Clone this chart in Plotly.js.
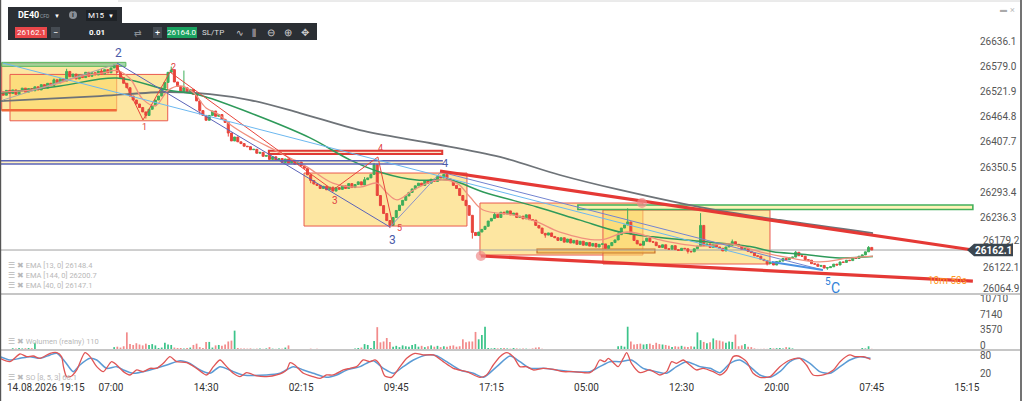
<!DOCTYPE html>
<html><head><meta charset="utf-8">
<script src="https://cdn.plot.ly/plotly-3.0.1.min.js"></script>
<style>html,body{margin:0;padding:0;background:#fff;overflow:hidden}#chart{width:1024px;height:401px}</style>
</head><body><div id="chart"></div>
<script>
// ---------------- DATA ----------------
const barStart = -5;          // index of first visible M15 bar
const firstOpen = 26524;
const closes = [
26522,26514,26525,26518,26526,26516,26524,26530,26521,26529,
26524,26533,26526,26538,26530,26541,26536,26549,26542,26551,
26546,26568,26556,26562,26551,26560,26554,26566,26557,26565,
26560,26569,26562,26572,26565,26576,26582,26566,26554,26541,
26531,26512,26503,26494,26486,26476,26468,26482,26490,26503,
26512,26530,26543,26566,26571,26544,26534,26522,26531,26520,
26527,26516,26501,26479,26468,26457,26468,26478,26466,26470,
26459,26452,26428,26410,26419,26408,26404,26398,26397,26390,
26391,26382,26384,26375,26377,26368,26374,26366,26370,26361,
26369,26360,26366,26357,26362,26353,26348,26333,26320,26312,
26309,26302,26307,26299,26305,26296,26304,26300,26308,26302,
26313,26304,26311,26317,26310,26322,26326,26334,26356,26286,
26263,26245,26229,26218,26236,26252,26264,26275,26285,26293,
26301,26308,26314,26309,26320,26314,26323,26318,26330,26326,
26334,26324,26320,26309,26302,26286,26275,26263,26241,26202,
26195,26203,26209,26216,26228,26234,26243,26236,26248,26244,
26251,26242,26246,26236,26239,26233,26242,26231,26230,26218,
26212,26200,26196,26201,26193,26190,26184,26190,26180,26187,
26178,26184,26175,26182,26173,26179,26171,26177,26169,26175,
26176,26166,26172,26179,26185,26197,26212,26219,26226,26198,
26184,26176,26173,26182,26189,26181,26180,26172,26168,26174,
26165,26164,26172,26163,26161,26166,26165,26159,26158,26165,
26171,26218,26172,26176,26168,26175,26169,26166,26160,26169,
26173,26181,26175,26171,26164,26166,26159,26156,26149,26148,
26141,26138,26131,26134,26128,26136,26137,26143,26140,26145,
26146,26157,26149,26148,26140,26139,26131,26130,26125,26127,
26121,26122,26124,26130,26128,26135,26134,26139,26138,26144,
26143,26148,26151,26158,26168,26162.1];
const highWicks = {16:26574, 31:26584, 49:26579, 113:26360, 193:26257, 216:26246, 246:26160, 269:26171, 12:26552, 27:26574, 53:26570, 110:26328, 151:26248, 190:26203, 226:26186};
const lowWicks  = {41:26461, 58:26470, 118:26212, 144:26188, 67:26420, 93:26314, 167:26190, 212:26154, 237:26127, 256:26117};
const volumes = [
0,0,0,0,250,200,300,200,250,300,
250,1500,0,0,0,0,0,0,0,0,
0,0,0,0,0,0,0,0,0,0,
0,0,0,0,0,0,500,600,400,700,
3900,1200,1000,1400,1100,900,1300,1000,1200,900,
300,400,1500,1100,1000,400,300,300,200,300,
400,1000,1300,500,300,1700,1700,400,900,1000,
800,1100,1800,2000,4300,300,200,200,150,200,
100,150,200,100,200,500,150,100,200,150,
400,900,0,0,0,0,0,0,150,0,
150,0,0,0,0,0,0,0,0,0,
0,0,200,300,400,1200,1000,300,1900,5100,
1600,1800,2600,1700,600,800,500,900,700,600,
1000,1200,600,800,500,700,900,600,800,500,
700,600,800,900,600,700,2300,1600,1800,1800,
4000,2300,3300,5200,300,200,300,200,250,300,
200,150,300,200,150,200,150,100,200,400,
450,100,0,0,0,0,0,0,0,0,
0,0,0,0,0,0,0,0,0,0,
0,0,0,0,0,700,800,600,5200,1800,
1100,1200,1300,1100,1200,1300,1000,1500,1200,1100,
1000,800,500,700,600,800,600,500,700,600,
3900,2100,1700,1400,1600,2500,2100,2000,1800,1500,
1800,1700,3400,700,900,1200,600,500,200,100,
100,150,100,300,200,250,300,200,500,400,
200,0,0,0,0,0,0,0,0,0,
0,0,0,0,0,0,0,0,0,0,
0,0,300,200,700,110];

const ema144X = [-5,26.5,47.7,61.2,73.8,89.6,108.5,130.6,152.7,171.6,190.6,215.8,241,270.4];
const ema144Y = [26500.7,26512,26521.2,26516.6,26503,26473.5,26434.8,26405.3,26373.5,26332.6,26298.5,26259.8,26230.3,26200.7];
const ema40X = [-5,13.9,31.9,47.7,58.1,73.8,92.8,105.4,115.8,126.5,137,147.4,164.4,178,190.6,201,215.8,231.6,238.8,247.3,260,270.4];
const ema40Y = [26519,26535,26553,26526,26514,26474,26417,26367,26337,26321,26321,26294,26260,26230,26203,26192,26182,26170,26158,26153,26144,26147.1];
const ema13X = [-5,5,14,20,27,32,36,40,44,48,52,56,60,64,68,74,82,91.8,100,108.5,113.9,117,120.2,125.3,132.8,139.1,143.2,147.4,156.8,164.4,171.6,184.2,193,203.2,215.8,225.3,234.7,244.2,253.7,263.1,270.4];
const ema13Y = [26521,26526,26542,26556,26564,26570,26552,26505,26490,26525,26535,26520,26485,26470,26445,26418,26388,26351,26314,26305,26314,26292,26276,26298,26321,26314,26283,26253,26242,26226,26203,26185,26203,26185,26171,26176,26158,26144,26135,26144,26148.4];

const soKX = [-5,-1.9,1.3,3.4,5.5,7.6,10.8,12.9,14.4,15,16,17.6,19.2,21.8,23.4,25.5,27.6,30.2,31.8,33.9,36,38.1,40.2,42.3,44.4,46.5,48.6,50.7,53.9,57,60.2,62.3,64.4,66.5,68.6,70.7,72.8,76,79.1,82.3,85.4,86.5,88,90.7,93.8,96,98,100.1,103.3,105.4,107.5,109.6,111.7,113.3,114.9,116.4,118.5,121.2,123.3,125.9,128.5,131.7,134.8,138,142.2,146.4,148.5,150.6,
152.7,154.8,156.9,159,161.1,163.2,166.4,169.5,172.7,175.8,179,181.1,182.7,184.2,185.8,186.9,188.5,190,191.6,192.7,194.2,196.9,200,203.2,205.3,206.9,208.4,210.5,212.6,214.7,216.8,220,222.1,224.2,226.3,227.9,230.5,232.6,234.7,237.9,241,244.2,247.3,249.4,251.5,254.7,257.9,260,263.1,264.7,267.3,269.6];
const soK = [68.9,57.8,83.4,74.5,76.7,68.9,85.6,87.8,74.5,41.2,7.8,10.1,30.1,87.8,74.5,41.2,24.5,57.8,46.7,24.5,13.4,30.1,24.5,35.6,35.6,52.3,74.5,57.8,54.5,35.6,13.4,41.2,63.4,41.2,19,7.8,21.2,10.1,7.8,13.4,30.1,54.5,46.7,19,7.8,2,13.4,13.4,30.1,35.6,41.2,63.4,57.8,63.4,46.7,10.1,5.6,41.2,68.9,85.6,80.1,80.1,57.8,35.6,24.5,5.6,13.4,46.7,
74.5,87.8,74.5,41.2,41.2,30.1,35.6,32.3,24.5,24.5,21.2,21.2,35.6,63.4,57.8,68.9,54.5,41.2,68.9,87.8,52.3,21.2,30.1,13.4,24.5,57.8,52.3,63.4,46.7,30.1,35.6,24.5,13.4,30.1,74.5,76.7,57.8,19,5.6,7.8,41.2,63.4,68.9,46.7,13.4,13.4,30.1,57.8,80.1,74.5,74.5,65.6];
const soDX = [-5,-1.9,1.3,4.4,7.6,10.8,12.9,15.5,18.1,20.2,23.4,25.5,28.6,31.8,33.9,37,42.3,47.6,51.8,54.9,58.1,61.2,64.4,68.6,71.7,79.1,83.3,87.5,90.7,93.8,98,101.2,104.4,108.6,112.7,115.9,119.1,122.2,125.4,129.6,132.7,135.9,140.1,144.3,147.5,151.7,155.9,
159,162.2,166.4,170.6,175.8,181.1,184.2,187.4,190.6,194.2,197.9,202.1,205.3,208.4,211.6,215.8,219,222.1,225.3,228.4,231.6,234.7,237.9,241,244.2,247.3,250.5,253.6,256.8,260,263.1,266.3,269.6];
const soD = [74.5,63.4,68.9,74.5,68.9,80.1,85.6,57.8,24.5,46.7,68.9,63.4,35.6,41.2,30.1,19,30.1,46.7,61.2,52.3,30.1,19,41.2,24.5,13.4,13.4,19,41.2,30.1,19,5.6,13.4,30.1,41.2,61.2,35.6,19,41.2,63.4,80.1,77.8,57.8,30.1,19,5.6,41.2,76.7,
57.8,35.6,35.6,30.1,24.5,24.5,41.2,57.8,57.8,63.4,35.6,24.5,19,41.2,57.8,41.2,35.6,21.2,52.3,63.4,41.2,13.4,5.6,24.5,57.8,68.9,52.3,24.5,19,41.2,63.4,74.5,68.9];

const timeTickIdx  = [30,60,90,120,150,180,210,240,270,300];
const timeTickText = ['07:00','14:30','02:15','09:45','17:15','05:00','12:30','20:00','07:45','15:15'];
const firstTimeLabel = '14.08.2026 19:15';
const priceTicks = [26236.3,26293.4,26350.5,26407.7,26464.8,26521.9,26579.0,26636.1];
const priceTicksCrowded = [26064.9,26122.1,26179.2];   // labels squeezed near the price tag / panel edge
const volTicks = [0,3570,7140,10710];
const soTicks = [20,80];
const lastPrice = 26162.1, askPrice = 26164.0;

// drawing objects on the chart (bar index, price)
const zones = [ // [x0,x1,y0,y1]
  [-4.48,31.8,26479.2,26586.4],
  [-1.86,47.9,26455.8,26561.2],
  [90.9,142.3,26216.6,26337.1],
  [146.4,197.8,26150.7,26268.9],
  [185.2,237.9,26130.3,26253.0]];
const waveRed = [[31.9,26580.3],[40.1,26457.6],[48.6,26566.6],[100,26298.5],[114.2,26373.5],[119,26216.6]];
const waveBlue = [[31.9,26587.1],[118,26214.4],[134.1,26339.4],[254.6,26116.6]];
const lightBlueLine = [[-4.1,26587.1],[238.5,26134.8]];
const grayLine = [[-4.1,26503],[31.9,26585]];
const upperTrend = [[133.8,26341.6],[301.9,26162.1]];
const lowerTrend = [[146.7,26148.5],[301.9,26091.6]];

// ---------------- BUILD ----------------
const P = px => px/1024, Q = py => 1 - py/401;
const idx = closes.map((_,k)=>barStart+k);
const opens = closes.map((c,k)=> k===0 ? firstOpen : closes[k-1]);
const highs = closes.map((c,k)=>{const m=Math.max(c,opens[k]);const w=highWicks[idx[k]];return w!==undefined?Math.max(w,m):m;});
const lows  = closes.map((c,k)=>{const m=Math.min(c,opens[k]);const w=lowWicks[idx[k]];return w!==undefined?Math.min(w,m):m;});
const volColors = closes.map((c,k)=> c>=opens[k] ? '#3cc48a' : '#f28b8b');

const traces = [
 {type:'scatter',mode:'lines',x:ema144X,y:ema144Y,line:{color:'#6e7378',width:1.8,shape:'spline'},xaxis:'x',yaxis:'y'},
 {type:'scatter',mode:'lines',x:ema40X,y:ema40Y,line:{color:'#2e9a5a',width:1.5,shape:'spline'},xaxis:'x',yaxis:'y'},
 {type:'scatter',mode:'lines',x:ema13X,y:ema13Y,line:{color:'#f0907e',width:1.3,shape:'spline'},xaxis:'x',yaxis:'y'},
 {type:'candlestick',x:idx,open:opens,high:highs,low:lows,close:closes,xaxis:'x',yaxis:'y',
  increasing:{line:{color:'#3fae5b',width:1},fillcolor:'#3fae5b'},
  decreasing:{line:{color:'#e8453c',width:1},fillcolor:'#e8453c'},whiskerwidth:0},
 {type:'bar',x:idx,y:volumes,marker:{color:volColors},width:0.55,xaxis:'x2',yaxis:'y2'},
 {type:'scatter',mode:'lines',x:soDX,y:soD,line:{color:'#5b9bd5',width:1.5,shape:'spline',smoothing:0.7},xaxis:'x3',yaxis:'y3'},
 {type:'scatter',mode:'lines',x:soKX,y:soK,line:{color:'#e05555',width:1.3,shape:'spline',smoothing:0.7},xaxis:'x3',yaxis:'y3'}
];

const shapes = [];
const rectD=(x0,x1,y0,y1,fill,lc,lw,layer,op)=>shapes.push({type:'rect',xref:'x',yref:'y',x0,x1,y0,y1,fillcolor:fill,opacity:op===undefined?1:op,line:{color:lc,width:lw},layer:layer||'below'});
const lineD=(a,b,color,w,layer)=>shapes.push({type:'line',xref:'x',yref:'y',x0:a[0],y0:a[1],x1:b[0],y1:b[1],line:{color,width:w},layer:layer||'above'});
const rectP=(x0,y0,x1,y1,fill,lc,lw)=>shapes.push({type:'rect',xref:'paper',yref:'paper',x0:P(x0),x1:P(x1),y0:Q(y0),y1:Q(y1),fillcolor:fill,line:{color:lc||'rgba(0,0,0,0)',width:lw||0},layer:'above'});
const lineP=(x0,y0,x1,y1,color,w)=>shapes.push({type:'line',xref:'paper',yref:'paper',x0:P(x0),x1:P(x1),y0:Q(y0),y1:Q(y1),line:{color,width:w},layer:'above'});

// zones
zones.forEach(z=>rectD(z[0],z[1],z[2],z[3],'rgba(251,214,103,0.62)','#ea5a4e',1,'below'));
rectD(-4.48,34.7,26579.5,26588.6,'rgba(140,205,150,0.8)','#5cb85c',1,'below');
lineD([-4.48,26480],[31.8,26480],'#f06a3a',2.5,'below');
rectD(164.4,201.6,26155.3,26164.4,'rgba(245,193,90,0.8)','#c8702a',1.2,'below');
rectD(-5,134.7,26357.6,26365.1,'rgba(255,240,190,0.9)','rgba(0,0,0,0)',0,'below');
lineD([-5,26365.1],[134.7,26365.1],'#5a63b8',1.6,'above');
lineD([-5,26357.6],[134.7,26357.6],'#5a63b8',1.6,'above');
rectD(79.8,134.5,26380.3,26387.8,'rgba(245,230,200,0.9)','#e03a34',2,'below');
rectD(177.3,301.9,26254.1,26264.4,'rgba(255,243,176,0.9)','#43b05c',1.6,'below');
// current price line
lineD([-5.016,lastPrice],[301.9,lastPrice],'#a0a0a0',1,'below');
// wave lines
for(let k=0;k<waveRed.length-1;k++) lineD(waveRed[k],waveRed[k+1],'#e8453c',1);
lineD(waveBlue[0],waveBlue[1],'#5a63b8',1);
lineD(waveBlue[1],waveBlue[2],'#8a93c8',1);
lineD(waveBlue[2],waveBlue[3],'#7384d0',1);
lineD([238.5,26134.8],waveBlue[3],'#4a90e2',2);
lineD(lightBlueLine[0],lightBlueLine[1],'#6cb8f0',1);
lineD(grayLine[0],grayLine[1],'#a8a8a8',1);
lineD(upperTrend[0],upperTrend[1],'#e53935',3.2);
lineD(lowerTrend[0],lowerTrend[1],'#e53935',3.2);
// pink anchors
[[146.7,26148.5],[197.5,26268.9]].forEach(c=>shapes.push({type:'circle',xref:'x',yref:'y',x0:c[0]-1.6,x1:c[0]+1.6,y0:c[1]-11.4,y1:c[1]+11.4,fillcolor:'rgba(240,140,140,0.7)',line:{width:0},layer:'above'}));

// frame / panel separators
lineP(0,294,1020,294,'#c6c6c6',2);
lineP(0,350,1020,350,'#c6c6c6',2);
lineP(118,1,1020,1,'#d6d6d6',1);
lineP(0.6,0,0.6,401,'#555',1.2);
lineP(1021,0,1021,401,'#444',1.5);
// price tag
shapes.push({type:'path',xref:'paper',yref:'paper',path:`M ${P(967)},${Q(250)} L ${P(974)},${Q(243.8)} L ${P(1013)},${Q(243.8)} L ${P(1013)},${Q(256.2)} L ${P(974)},${Q(256.2)} Z`,fillcolor:'#3b4650',line:{width:0},layer:'above'});
// toolbar
rectP(8,7,122,23,'#2b2f34');
rectP(8,23,317,40,'#2b2f34');
shapes.push({type:'circle',xref:'paper',yref:'paper',x0:P(69),x1:P(77),y0:Q(19),y1:Q(11),fillcolor:'#8a8f96',line:{width:0},layer:'above'});
rectP(86,10,117,21,'#1e2226');
rectP(15,27,47,38,'#e9474a');
rectP(51,27,60,38,'#454b52');
rectP(153,27,162,38,'#454b52');
rectP(167,27,197,38,'#1aa260');

const ann = [];
const tP=(x,y,text,size,color,anchor,extra)=>ann.push(Object.assign({xref:'paper',yref:'paper',x:P(x),y:Q(y),text,showarrow:false,xanchor:anchor||'center',yanchor:'middle',font:{family:'Roboto, sans-serif',size,color}},extra||{}));
const tD=(x,y,text,size,color)=>ann.push({xref:'x',yref:'y',x,y,text,showarrow:false,xanchor:'center',yanchor:'middle',font:{family:'Roboto, sans-serif',size,color}});

// crowded price labels placed where the reference shows them (text kept above the tag / panel edge)
const crowdedY = [288.5, 267.8, 240.5];
priceTicksCrowded.forEach((v,k)=>tP(981,crowdedY[k],v.toFixed(1),10,'#555','left'));

tD(32.5,26609.8,'2',12,'#4a5aa8');
tD(49.6,26578,'2',9,'#e04040');
tD(40.7,26441.6,'1',9,'#e04040');
tD(114.9,26394,'4',9,'#e04040');
tD(135.4,26359.8,'4',11,'#4a5aa8');
tD(100.7,26273.5,'3',10,'#e04040');
tD(121,26211,'5',9,'#e04040');
tD(118.8,26184.5,'3',12,'#4a5aa8');
tD(256.2,26091.6,'5',10,'#2f7fd8');
tD(258.6,26075.7,'C',14,'#2f7fd8');
tD(294,26093.9,'10m 50s',10,'#ff9a1f');

tP(993,250,'<b>'+lastPrice.toFixed(1)+'</b>',10,'#ffffff');
tP(5,387,firstTimeLabel,10,'#333','left');
// legends
const lg='#b8b8b8';
tP(6,265,'☰ ✖ EMA [13, 0] 26148.4',7.5,lg,'left');
tP(6,275,'☰ ✖ EMA [144, 0] 26200.7',7.5,lg,'left');
tP(6,285,'☰ ✖ EMA [40, 0] 26147.1',7.5,lg,'left');
tP(6,341,'☰ ✖ Wolumen (realny) 110',7.5,lg,'left');
tP(6,377,'☰ ✖ SO [8, 5, 3] 66.1',7.5,lg,'left');
// toolbar text
tP(16,15,'<b>DE40</b>',9,'#ffffff','left');
tP(38,16,'CFD',5,'#9aa0a6','left');
tP(57,15,'▼',6,'#ffffff');
tP(73,15,'<b>i</b>',7,'#2b2f34');
tP(96,15.5,'M15',8,'#ffffff');
tP(111,15.5,'▼',6,'#ffffff');
tP(31,32.5,lastPrice.toFixed(1),8,'#ffffff');
tP(55.5,32.5,'−',9,'#ffffff');
tP(97,32.5,'<b>0.01</b>',8,'#ffffff');
tP(138,32.5,'⇄',9,'#8a8f96');
tP(157.5,32.5,'+',9,'#ffffff');
tP(182,32.5,askPrice.toFixed(1),8,'#ffffff');
tP(213,32.5,'SL/TP',8,'#dddddd');
tP(240,32.5,'∿',9,'#cccccc');
tP(254,32.5,'⫼',9,'#cccccc');
tP(271,32.5,'⊖',10,'#cccccc');
tP(288,32.5,'⊕',10,'#cccccc');
tP(305,32.5,'✥',10,'#cccccc');
tP(1003,10,'▬',7,'#aaaaaa');
tP(1012,10,'×',9,'#bbbbbb');

const yBase = {showgrid:false,zeroline:false,ticks:'',side:'right',anchor:'free',position:0.956,fixedrange:true,showline:false,automargin:false,tickfont:{family:'Roboto, sans-serif',size:10,color:'#555'}};
const xBase = {domain:[0,0.9521],showgrid:false,zeroline:false,showline:false,ticks:'',fixedrange:true};
const layout = {
 width:1024,height:401,margin:{l:0,r:0,t:0,b:0},paper_bgcolor:'#ffffff',plot_bgcolor:'rgba(0,0,0,0)',
 showlegend:false,hovermode:false,dragmode:false,boxgap:0.1,
 font:{family:'Roboto, sans-serif',size:10,color:'#555'},
 xaxis:Object.assign({},xBase,{range:[-5.016,302.56],anchor:'y',showticklabels:false,rangeslider:{visible:false}}),
 xaxis2:Object.assign({},xBase,{matches:'x',anchor:'y2',showticklabels:false}),
 xaxis3:Object.assign({},xBase,{matches:'x',anchor:'y3',tickvals:timeTickIdx,ticktext:timeTickText,tickfont:{family:'Roboto, sans-serif',size:10,color:'#333'}}),
 yaxis:Object.assign({},yBase,{domain:[0.2668,0.9925],range:[26062.1,26723.5],tickvals:priceTicks,ticktext:priceTicks.map(v=>v.toFixed(1))}),
 yaxis2:Object.assign({},yBase,{domain:[0.1272,0.2668],range:[-161,12736],tickvals:volTicks,ticktext:volTicks.map(String),ticklabelshift:-4}),
 yaxis3:Object.assign({},yBase,{domain:[0.0524,0.1272],range:[-3.3,96.7],tickvals:soTicks,ticktext:soTicks.map(String)}),
 shapes,annotations:ann
};
Plotly.newPlot('chart',traces,layout,{staticPlot:true,displayModeBar:false});
</script></body></html>
